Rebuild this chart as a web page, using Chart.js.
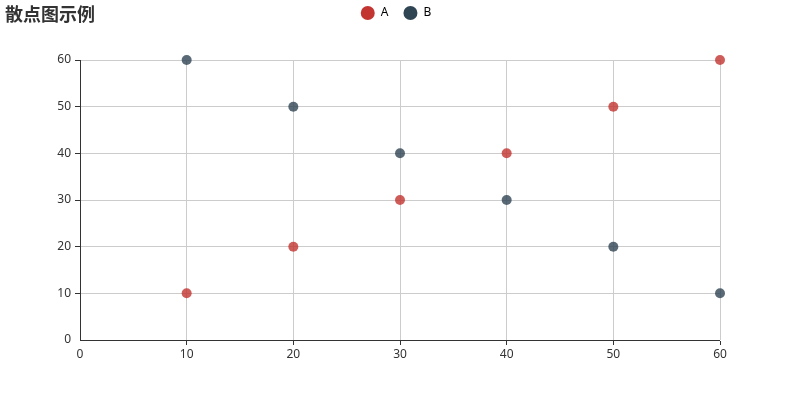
<!DOCTYPE html>
<html>
<head>
<meta charset="utf-8">
<script src="https://cdn.jsdelivr.net/npm/chart.js@4/dist/chart.umd.min.js"></script>
<style>
    html, body { margin: 0; padding: 0; background: #fff; }
    #wrap { width: 800px; height: 400px; position: relative; }
</style>
</head>
<body>
<div id="wrap"><canvas id="scatterChart" width="800" height="400"></canvas></div>
<script>
// Chart data
const chartTitle = '散点图示例';
const seriesNames = ['A', 'B'];
const xValues = [10, 20, 30, 40, 50, 60];
const seriesA = [10, 20, 30, 40, 50, 60];
const seriesB = [60, 50, 40, 30, 20, 10];
const axisMin = 0;
const axisMax = 60;
const axisStep = 10;

const colorA = 'rgba(194, 53, 49, 0.8)';
const colorB = 'rgba(47, 69, 84, 0.8)';
const legendA = '#c23531';
const legendB = '#2f4554';
const tickFont = { family: '"Noto Sans", "Noto Sans CJK SC", sans-serif', size: 12 };

function toPoints(ys) {
    return xValues.map((x, i) => ({ x: x, y: ys[i] }));
}

// Draws the title in the top-left corner
const titlePlugin = {
    id: 'cornerTitle',
    afterDraw(chart) {
        const ctx = chart.ctx;
        ctx.save();
        ctx.font = 'bold 18px "Noto Sans CJK SC", sans-serif';
        ctx.fillStyle = '#333';
        ctx.textAlign = 'left';
        ctx.textBaseline = 'middle';
        ctx.fillText(chartTitle, 5, 14);
        ctx.restore();
    }
};

// Legend box: tall enough so the plot starts at y = 60, centred on the whole canvas
const legendLayoutPlugin = {
    id: 'legendLayout',
    beforeInit(chart) {
        const origFit = chart.legend.fit;
        chart.legend.fit = function () {
            origFit.call(this);
            this.height = 68;
        };
    },
    afterLayout(chart) {
        const legend = chart.legend;
        legend.left = -4;
        legend.right = chart.width - 4;
        legend.width = chart.width;
    }
};

const axisCommon = {
    type: 'linear',
    min: axisMin,
    max: axisMax,
    ticks: { stepSize: axisStep, color: '#333', font: tickFont },
    grid: {
        color: '#ccc',
        tickColor: '#333',
        tickLength: 5,
        lineWidth: ctx => (ctx.tick && ctx.tick.value === 0 ? 0 : 1)
    },
    border: { color: '#333', width: 1 }
};

new Chart(document.getElementById('scatterChart').getContext('2d'), {
    type: 'scatter',
    data: {
        datasets: [
            {
                label: seriesNames[0],
                data: toPoints(seriesA),
                backgroundColor: colorA,
                borderWidth: 0,
                pointRadius: 5,
                pointHoverRadius: 5,
                clip: false
            },
            {
                label: seriesNames[1],
                data: toPoints(seriesB),
                backgroundColor: colorB,
                borderWidth: 0,
                pointRadius: 5,
                pointHoverRadius: 5,
                clip: false
            }
        ]
    },
    options: {
        responsive: false,
        animation: false,
        layout: { padding: { left: 0, right: 80, top: -8, bottom: 0 } },
        plugins: {
            title: { display: false },
            tooltip: { enabled: false },
            legend: {
                position: 'top',
                align: 'center',
                labels: {
                    usePointStyle: true,
                    pointStyle: 'circle',
                    pointStyleWidth: 14,
                    boxHeight: 10,
                    padding: 15,
                    color: '#333',
                    font: tickFont,
                    generateLabels(chart) {
                        const fills = [legendA, legendB];
                        return chart.data.datasets.map((ds, i) => ({
                            text: ds.label,
                            fillStyle: fills[i],
                            strokeStyle: fills[i],
                            lineWidth: 0,
                            pointStyle: 'circle',
                            hidden: false,
                            datasetIndex: i
                        }));
                    }
                }
            }
        },
        scales: {
            x: Object.assign({}, axisCommon, {
                position: 'bottom',
                ticks: Object.assign({}, axisCommon.ticks, { padding: 2 }),
                afterFit(scale) { scale.height = 60; }
            }),
            y: Object.assign({}, axisCommon, {
                position: 'left',
                ticks: Object.assign({}, axisCommon.ticks, { padding: 4 }),
                afterFit(scale) { scale.width = 80; }
            })
        }
    },
    plugins: [titlePlugin, legendLayoutPlugin]
});
</script>
</body>
</html>
